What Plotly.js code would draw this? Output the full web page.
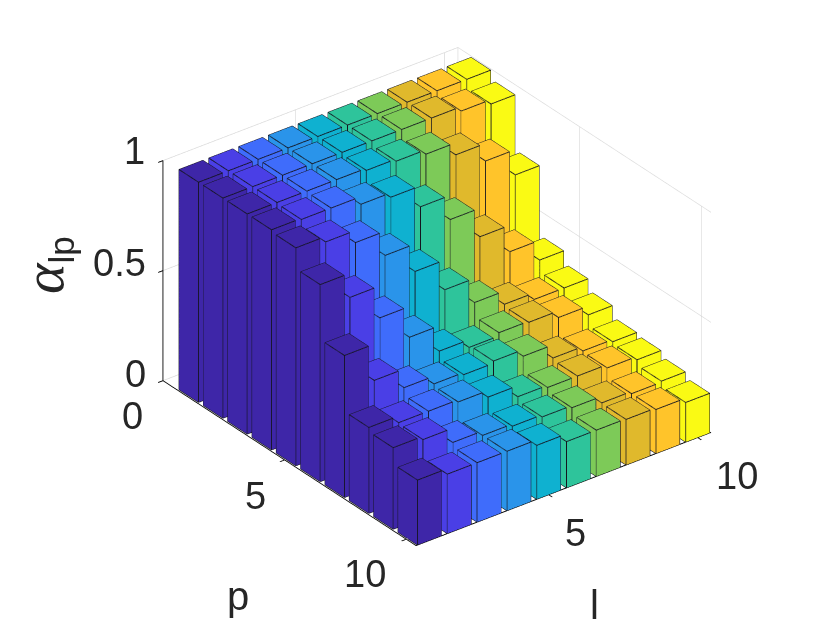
<!DOCTYPE html>
<html>
<head>
<meta charset="utf-8">
<script src="https://cdn.plot.ly/plotly-3.0.1.min.js"></script>
<style>html,body{margin:0;padding:0;background:#fff}</style>
</head>
<body>
<div id="chart" style="width:840px;height:630px"></div>
<script>
// bar heights alpha_lp, one row per p (1..10), one column per l (1..10)
const p1 = [1, 1, 1, 1, 1, 1, 1, 1, 1, 1];
const p2 = [1, 1, 1, 1, 1, 1, 1, 1, 0.98, 0.96];
const p3 = [1, 1, 1, 1, 0.99, 0.98, 0.96, 0.905, 0.825, 0.71];
const p4 = [1, 0.995, 0.995, 0.96, 0.94, 0.845, 0.735, 0.605, 0.485, 0.395];
const p5 = [0.99, 0.965, 0.91, 0.8, 0.675, 0.54, 0.43, 0.37, 0.34, 0.34];
const p6 = [0.895, 0.785, 0.64, 0.5, 0.385, 0.35, 0.365, 0.36, 0.33, 0.29];
const p7 = [0.645, 0.48, 0.395, 0.36, 0.35, 0.36, 0.33, 0.27, 0.25, 0.24];
const p8 = [0.39, 0.36, 0.36, 0.35, 0.32, 0.27, 0.26, 0.26, 0.245, 0.23];
const p9 = [0.37, 0.355, 0.29, 0.27, 0.26, 0.25, 0.24, 0.21, 0.2, 0.205];
const p10 = [0.295, 0.27, 0.27, 0.27, 0.245, 0.21, 0.21, 0.207, 0.2, 0.18];
const rows = [p1, p2, p3, p4, p5, p6, p7, p8, p9, p10];

// one colour per l
const barColors = ['#3e26a8', '#4a3fe6', '#3f6cfb', '#2a94ea', '#0fb1d0', '#2ec49b', '#7dca58', '#e0b92c', '#ffc42a', '#fafa14'];

const halfWidth = 0.4;
const lRange = [0.55, 10.45];
const pRange = [10.4, 0];

const xs = [], ys = [], zs = [], iv = [], jv = [], kv = [], faceColors = [];
const ex = [], ey = [], ez = [];

function addBar(l, p, h, color) {
    const x0 = l - halfWidth, x1 = l + halfWidth, y0 = p - halfWidth, y1 = p + halfWidth;
    const base = xs.length;
    const corners = [[x0, y0, 0], [x1, y0, 0], [x1, y1, 0], [x0, y1, 0], [x0, y0, h], [x1, y0, h], [x1, y1, h], [x0, y1, h]];
    corners.forEach(c => { xs.push(c[0]); ys.push(c[1]); zs.push(c[2]); });
    const quads = [[4, 5, 6, 7], [0, 1, 5, 4], [1, 2, 6, 5], [2, 3, 7, 6], [3, 0, 4, 7]];
    quads.forEach(q => {
        iv.push(base + q[0], base + q[0]);
        jv.push(base + q[1], base + q[2]);
        kv.push(base + q[2], base + q[3]);
        faceColors.push(color, color);
        [q[0], q[1], q[2], q[3], q[0]].forEach(n => { ex.push(corners[n][0]); ey.push(corners[n][1]); ez.push(corners[n][2]); });
        ex.push(null); ey.push(null); ez.push(null);
    });
}

rows.forEach((row, pi) => row.forEach((h, li) => addBar(li + 1, pi + 1, h, barColors[li])));

const bars = {
    type: 'mesh3d', x: xs, y: ys, z: zs, i: iv, j: jv, k: kv,
    facecolor: faceColors, flatshading: true, hoverinfo: 'skip',
    lighting: { ambient: 1, diffuse: 0, specular: 0, roughness: 1, fresnel: 0 }
};
const edges = {
    type: 'scatter3d', mode: 'lines', x: ex, y: ey, z: ez,
    line: { color: '#14141f', width: 1.8 }, hoverinfo: 'skip', showlegend: false
};

const labelFamily = 'Liberation Sans, Arial, sans-serif';
const tickFont = { family: labelFamily, size: 38, color: '#262626' };

function tickNote(x, y, z, text, dx, dy, anchor) {
    return { x: x, y: y, z: z, text: text, showarrow: false, font: tickFont, xshift: dx, yshift: dy, xanchor: anchor || 'center', yanchor: 'middle' };
}

const notes = [
    tickNote(lRange[0], 0, 1, '1', -16, 10, 'right'),
    tickNote(lRange[0], 0, 0.5, '0.5', -15, 8, 'right'),
    tickNote(lRange[0], 0, 0, '0', -15, 7, 'right'),
    tickNote(lRange[0], 0, 0, '0', -30, -35),
    tickNote(lRange[0], 5, 0, '5', -29, -36),
    tickNote(lRange[0], 10, 0, '10', -41, -35),
    tickNote(5, pRange[0], 0, '5', 27, -38),
    tickNote(10, pRange[0], 0, '10', 39, -38)
];

function axisStyle(range, ticks) {
    return {
        range: range, tickvals: ticks, showticklabels: false, title: { text: '' },
        showgrid: true, gridcolor: '#d9d9d9', gridwidth: 1.5, showbackground: false, zeroline: false,
        showline: true, linecolor: '#000000', linewidth: 2, ticks: 'outside', ticklen: 6, tickwidth: 2, tickcolor: '#000000',
        showspikes: false
    };
}

function titleNote(px, py, text, angle, size) {
    return { xref: 'paper', yref: 'paper', x: px / 840, y: 1 - py / 630, xanchor: 'center', yanchor: 'middle', text: text, textangle: angle, showarrow: false, font: { family: labelFamily, size: size, color: '#262626' } };
}

const azimuth = 37.5 * Math.PI / 180, elevation = 30 * Math.PI / 180, eyeDist = 1.51;

const layout = {
    width: 840, height: 630,
    margin: { l: 0, r: 0, t: 0, b: 0 },
    paper_bgcolor: '#ffffff',
    showlegend: false,
    scene: {
        domain: { x: [0.0405, 1], y: [0.0587, 1] },
        aspectmode: 'manual',
        aspectratio: { x: 1.254, y: 1.402, z: 0.857 },
        camera: {
            projection: { type: 'orthographic' },
            up: { x: 0, y: 0, z: 1 },
            center: { x: 0, y: 0, z: 0 },
            eye: {
                x: -eyeDist * Math.sin(azimuth) * Math.cos(elevation),
                y: -eyeDist * Math.cos(azimuth) * Math.cos(elevation),
                z: eyeDist * Math.sin(elevation)
            }
        },
        xaxis: axisStyle(lRange, [5, 10]),
        yaxis: axisStyle(pRange, [0, 5, 10]),
        zaxis: axisStyle([0, 1], [0, 0.5, 1]),
        annotations: notes
    },
    annotations: [
        titleNote(238, 596, 'p', 0, 40),
        titleNote(594, 605, 'l', 0, 40),
        titleNote(46, 265, '<i style="font-family:\'Liberation Serif\';font-size:58px">α</i><sub>lp</sub>', -90, 50)
    ]
};

Plotly.newPlot('chart', [bars, edges], layout, { displayModeBar: false });
</script>
</body>
</html>
